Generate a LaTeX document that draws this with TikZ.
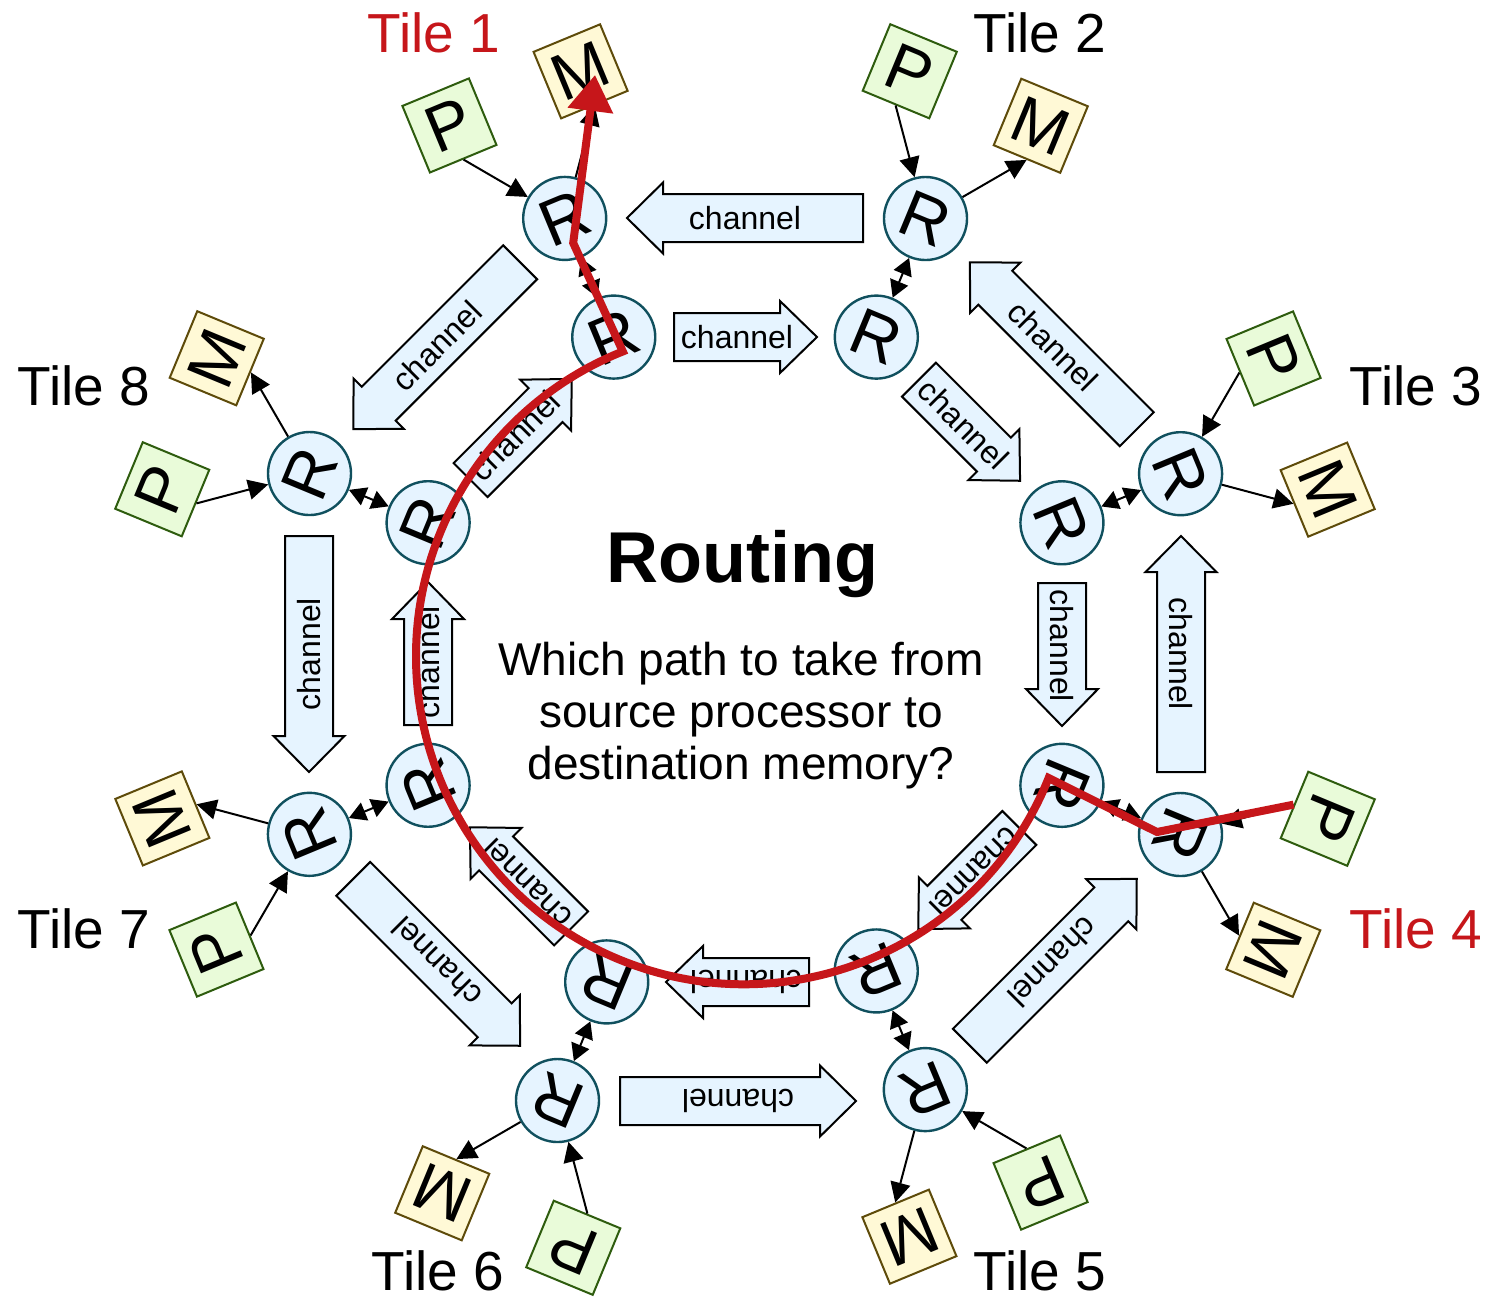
\documentclass[tikz,border=0pt]{standalone}
\usepackage{fontspec}
\setmainfont{Liberation Sans}
\usetikzlibrary{arrows.meta,calc}
\definecolor{chanfill}{RGB}{230,244,255}
\definecolor{routerline}{RGB}{16,80,94}
\definecolor{procfill}{RGB}{233,251,217}
\definecolor{procline}{RGB}{46,92,14}
\definecolor{memfill}{RGB}{255,249,214}
\definecolor{memline}{RGB}{94,75,10}
\definecolor{pathred}{RGB}{198,22,26}
\begin{document}
\begin{tikzpicture}[x=0.5pt,y=-0.5pt,
  router/.style={circle, draw=routerline, line width=1.2pt, fill=chanfill,
    minimum size=41.5pt, inner sep=0pt, font=\fontsize{33}{33}\selectfont},
  proc/.style={rectangle, draw=procline, line width=1pt, fill=procfill,
    minimum size=36pt, inner sep=0pt, font=\fontsize{33}{33}\selectfont},
  mem/.style={rectangle, draw=memline, line width=1pt, fill=memfill,
    minimum size=36pt, inner sep=0pt, font=\fontsize{33}{33}\selectfont},
  link/.style={line width=1pt, -{Triangle[length=10pt,width=10pt]}},
  duplex/.style={line width=1pt,
    {Triangle[length=8.5pt,width=9.5pt]}-{Triangle[length=8.5pt,width=9.5pt]}},
  chan/.style={draw=black, line width=1pt, fill=chanfill, line join=miter},
  chanlabel/.style={font=\fontsize{16}{16}\selectfont, inner sep=0pt},
  tilelabel/.style={font=\fontsize{27.5}{27.5}\selectfont, inner sep=0pt},
  route/.style={draw=pathred, line width=4pt, line join=miter,
    -{Triangle[length=18pt,width=22pt]}},
]
\useasboundingbox (0,0) rectangle (1497,1298);
\fill[white] (0,0) rectangle (1497,1298);

% Eight identical sectors around the ring: a pair of channels and the tile that follows them
\foreach \k/\dx/\dy in {0/0/0,1/0/0,2/0/0,3/0/0,4/-7/11,5/0/0,6/0/0,7/0/0}{
  \begin{scope}[shift={(\dx,\dy)}, rotate around={-45*\k:(745,654)}, transform shape]
    % outer channel (counter-clockwise) and inner channel (clockwise)
    \path[chan] (627,218) -- (663,182.5) -- (663,194) -- (863,194) -- (863,242)
      -- (663,242) -- (663,253.5) -- cycle;
    \path[chan] (674,313) -- (780,313) -- (780,301) -- (817,337) -- (780,373)
      -- (780,361) -- (674,361) -- cycle;
    \node[chanlabel] (co\k) at (745,218) {channel};
    \node[chanlabel] (ci\k) at (737,337) {channel};
    % tile: outer router, inner router, processor, memory
    \node[router, rotate=-22.5] (Ro\k) at (925.5,218.5) {R};
    \node[router, rotate=-22.5] (Ri\k) at (876.3,337.1) {R};
    \node[proc, rotate=-22.5] (P\k) at (909.75,71.25) {P};
    \node[mem, rotate=-22.5] (M\k) at (1040.75,125.75) {M};
    \draw[link] (P\k.south) -- (Ro\k);
    \draw[link] (Ro\k) -- (M\k.south);
    \draw[duplex] (Ri\k) -- (Ro\k);
  \end{scope}
}

% tile names
\node[tilelabel, text=pathred] (t1) at (434,33) {Tile 1};
\node[tilelabel] (t2) at (1040,33) {Tile 2};
\node[tilelabel] (t3) at (1416,386) {Tile 3};
\node[tilelabel, text=pathred] (t4) at (1416,929) {Tile 4};
\node[tilelabel] (t5) at (1040,1271) {Tile 5};
\node[tilelabel] (t6) at (438,1271) {Tile 6};
\node[tilelabel] (t7) at (84,929) {Tile 7};
\node[tilelabel] (t8) at (84,386) {Tile 8};

% centre text
\node[font=\fontsize{36}{36}\selectfont\bfseries, inner sep=0pt, anchor=base]
  (title) at (742,582) {Routing};
\node[font=\fontsize{23}{26}\selectfont, align=center, inner sep=0pt, anchor=north]
  (question) at (741,641.5) {Which path to take from\\source processor to\\destination memory?};

% route from the processor of tile 4 to the memory of tile 1
\coordinate (hopA) at ($(Ro2)+(-23.5,-2.5)$);
\coordinate (hopB) at ($(Ri2)+(-13.3,-7.3)$);
\coordinate (hopC) at ($(Ro7)+(8.5,24.5)$);
\coordinate (dest) at ($(M7)+(14.4,3.6)$);
\draw[route] (P2.south) -- (hopA) -- (hopB)
  arc[start angle=21.8, end angle=248.3, radius=328] -- (hopC) -- (dest);
\end{tikzpicture}
\end{document}
